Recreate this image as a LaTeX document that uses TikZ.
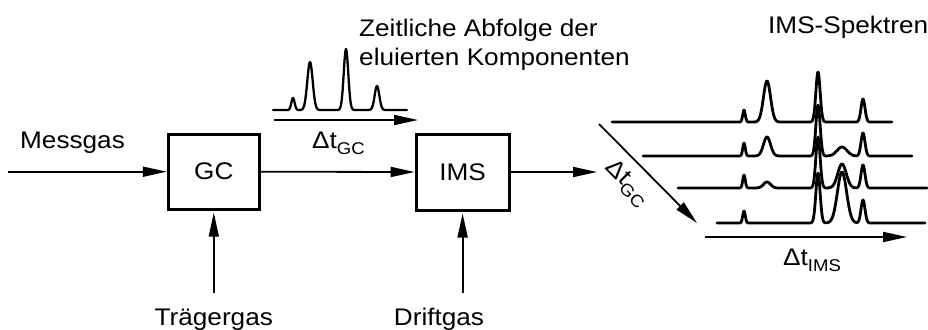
\documentclass[tikz,border=0pt]{standalone}
\usepackage{fontspec}
\setmainfont{Liberation Sans}[FakeStretch=1.09]
\usetikzlibrary{arrows.meta}
\newcommand\lowsub[1]{\raisebox{-6pt}{\fontsize{17}{17}\selectfont #1}}
\begin{document}
\begin{tikzpicture}[x=1pt, y=-1pt,
  font=\fontsize{24}{29}\selectfont,
  declare function={pk(\pu,\pc,\pw,\ph)=\ph*exp(-(min(abs(\pu-\pc)/\pw,4))^2);},
  box/.style={draw, line width=3pt, inner sep=0pt},
  lbl/.style={inner sep=0pt},
  arr/.style={line width=1.8pt, -{Triangle[length=24pt,width=10pt]}},
  trace/.style={line width=2.8pt, line join=round, line cap=round},
  chrom/.style={line width=2.3pt, line join=round, line cap=round}]
\useasboundingbox (0,0) rectangle (928,329);

% blocks
\node[box, minimum width=91pt, minimum height=75pt] (gc) at (213.8,171.7) {GC};
\node[box, minimum width=93pt, minimum height=76pt] (ims) at (462.6,172) {IMS};

% flow arrows
\coordinate (msgin) at (8,171.7);
\coordinate (imsout) at (597,172);
\coordinate (tgin) at (213.8,293);
\coordinate (dgin) at (462.6,293);
\draw[arr] (msgin) -- (gc.west);
\draw[arr] (gc.east) -- (ims.west);
\draw[arr] (ims.east) -- (imsout);
\draw[arr, shorten >=2pt] (tgin) -- (gc.south);
\draw[arr, shorten >=2pt] (dgin) -- (ims.south);

% labels
\node[lbl, anchor=base west] (msg) at (20,148) {Messgas};
\node[lbl, anchor=base] (tg) at (213.8,325) {Trägergas};
\node[lbl, anchor=base] (dg) at (439,325) {Driftgas};
\node[lbl, anchor=base west] (dgc) at (312,148) {Δt\lowsub{GC}};
\node[lbl, anchor=north west, align=left] (zeit) at (359,18.5) {Zeitliche Abfolge der\\eluierten Komponenten};
\node[lbl, anchor=base west] (spk) at (768,34) {IMS-Spektren};
\node[lbl, anchor=base west] (dims) at (783,265) {Δt\lowsub{IMS}};
\node[lbl, rotate=-45] (dgc2) at (627,183) {Δt\lowsub{GC}};

% chromatogram
\draw[chrom] plot[domain=273:407, samples=269]
  (\x, {110 - pk(\x,293,2.3,12) - pk(\x,310,3.8,48) - pk(\x,346,3.2,61) - pk(\x,377,3.3,24)});
\coordinate (ca0) at (274,120);
\coordinate (ca1) at (418,120);
\draw[arr] (ca0) -- (ca1);

% IMS spectra
\draw[trace] plot[domain=612:892, samples=561]
  (\x, {122 - pk(\x,744,1.8,12) - pk(\x,767,5,41) - pk(\x,818,3,50) - pk(\x,863,2.8,23)});
\draw[trace] plot[domain=643:912, samples=539]
  (\x, {156 - pk(\x,744,1.8,13) - pk(\x,767,5,19) - pk(\x,818,3,51) - pk(\x,842,7,9) - pk(\x,863,2.8,23)});
\draw[trace] plot[domain=678:927, samples=499]
  (\x, {188 - pk(\x,744,1.8,13) - pk(\x,767,5,6) - pk(\x,818,3,51) - pk(\x,842,6,24) - pk(\x,863,2.8,23)});
\draw[trace] plot[domain=717:925, samples=417]
  (\x, {223 - pk(\x,744,1.8,12) - pk(\x,818,3,50) - pk(\x,842,6.5,51) - pk(\x,863,2.8,23)});

% axes of spectra
\coordinate (ga0) at (599,124);
\coordinate (ga1) at (697,223);
\draw[arr] (ga0) -- (ga1);
\coordinate (ia0) at (705,237);
\coordinate (ia1) at (907,237);
\draw[arr] (ia0) -- (ia1);
\end{tikzpicture}
\end{document}
